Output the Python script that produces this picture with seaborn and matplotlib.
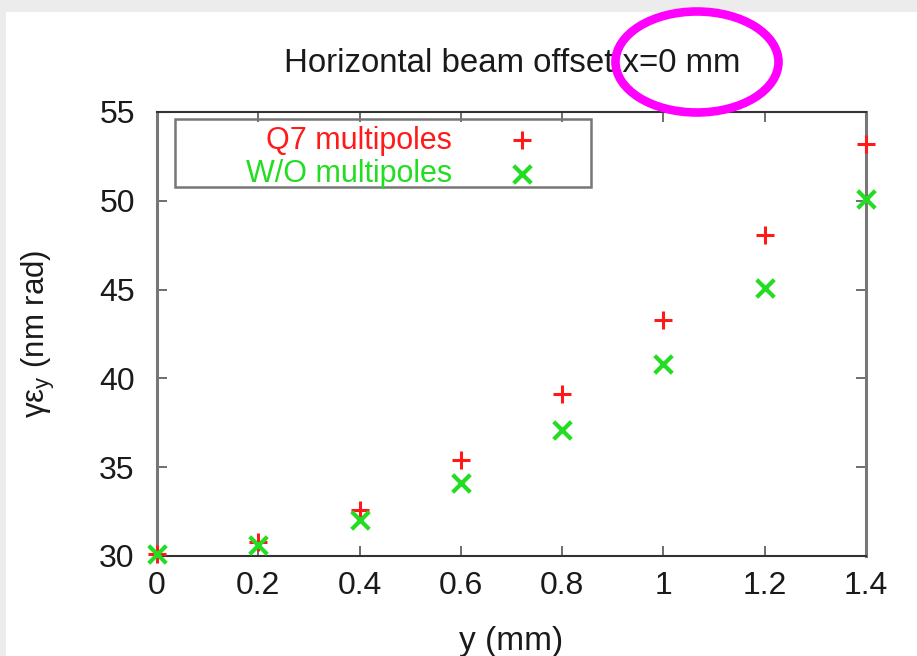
import matplotlib
matplotlib.use("Agg")
import matplotlib.pyplot as plt
from matplotlib.patches import Ellipse, Rectangle
from matplotlib.ticker import MultipleLocator
import seaborn as sns
import pandas as pd

# ---- data ----
y_offset = [0.0, 0.2, 0.4, 0.6, 0.8, 1.0, 1.2, 1.4]
q7_multipoles = [30.1, 30.8, 32.6, 35.4, 39.1, 43.3, 48.1, 53.2]
wo_multipoles = [30.1, 30.6, 32.0, 34.1, 37.1, 40.8, 45.1, 50.1]
series_labels = ["Q7 multipoles", "W/O multipoles"]
x_tick_labels = ["0", "0.2", "0.4", "0.6", "0.8", "1", "1.2", "1.4"]
title_text = "Horizontal beam offset x=0 mm"
xlabel_text = "y (mm)"
ylabel_text = r"γε$_\mathrm{y}$ (nm rad)"

RED = "#ff1a1a"
GREEN = "#22dd22"
TXT = "#1a1a1a"

sns.set_theme(style="white")
plt.rcParams["font.family"] = ["Liberation Sans", "DejaVu Sans"]
plt.rcParams["mathtext.fontset"] = "custom"
plt.rcParams["mathtext.rm"] = "Liberation Sans"
plt.rcParams["mathtext.it"] = "Liberation Sans:italic"

fig = plt.figure(figsize=(9.17, 6.56), dpi=100, facecolor="#ececec")
# white panel behind everything
fig.patches.append(Rectangle((6 / 917, 0), 1, (656 - 12) / 656, transform=fig.transFigure,
                             facecolor="white", edgecolor="none", zorder=-10))

ax = fig.add_axes([157 / 917, 1 - 556 / 656, (866 - 157) / 917, (556 - 112) / 656])
ax.set_facecolor("white")

df1 = pd.DataFrame({"y": y_offset, "v": q7_multipoles})
df2 = pd.DataFrame({"y": y_offset, "v": wo_multipoles})

sns.scatterplot(data=df1, x="y", y="v", marker="+", color=RED, s=170, linewidths=2.2,
                ax=ax, label=series_labels[0], clip_on=False, zorder=5)
sns.scatterplot(data=df2, x="y", y="v", marker="x", color=GREEN, s=160, linewidths=3.0,
                ax=ax, label=series_labels[1], clip_on=False, zorder=5)

ax.set_xlim(0, 1.4)
ax.set_ylim(30, 55)
ax.set_xticks(y_offset)
ax.set_xticklabels(x_tick_labels)
ax.yaxis.set_major_locator(MultipleLocator(5))

for side in ("left", "right"):
    ax.spines[side].set_color("#777777")
    ax.spines[side].set_linewidth(2.2)
for side in ("top", "bottom"):
    ax.spines[side].set_color("#333333")
    ax.spines[side].set_linewidth(1.5)
ax.tick_params(axis="both", which="major", direction="in", length=7, width=1.2,
               color="#555555", labelsize=23, labelcolor=TXT,
               top=True, right=True, bottom=True, left=True)
ax.tick_params(axis="x", pad=11)
ax.tick_params(axis="y", pad=16)

ax.set_xlabel(xlabel_text, fontsize=24, color=TXT, labelpad=18)
ax.set_ylabel(ylabel_text, fontsize=22.5, color=TXT, labelpad=30)
fig.text(512 / 917, 1 - 63 / 656, title_text, ha="center", va="center",
         fontsize=23.8, color=TXT)

# legend
leg = ax.legend(loc="upper right", bbox_to_anchor=(0.579, 1.004), frameon=False,
                markerfirst=False, labelcolor=[RED, GREEN], fontsize=22,
                handletextpad=1.29, handlelength=2.0, labelspacing=0.1, borderpad=0)
ax.add_patch(Rectangle((0.0254, 0.831), 0.612 - 0.0254, 0.984 - 0.831,
                       transform=ax.transAxes, facecolor="none",
                       edgecolor="#777777", linewidth=1.8, zorder=4))

# magenta highlight ellipse
fig.patches.append(Ellipse((697 / 917, 1 - 62 / 656), 163 / 917, 101 / 656,
                           transform=fig.transFigure, facecolor="none",
                           edgecolor="#ff00ff", linewidth=6.2, zorder=10))

fig.savefig("out.png", dpi=100, facecolor=fig.get_facecolor())
